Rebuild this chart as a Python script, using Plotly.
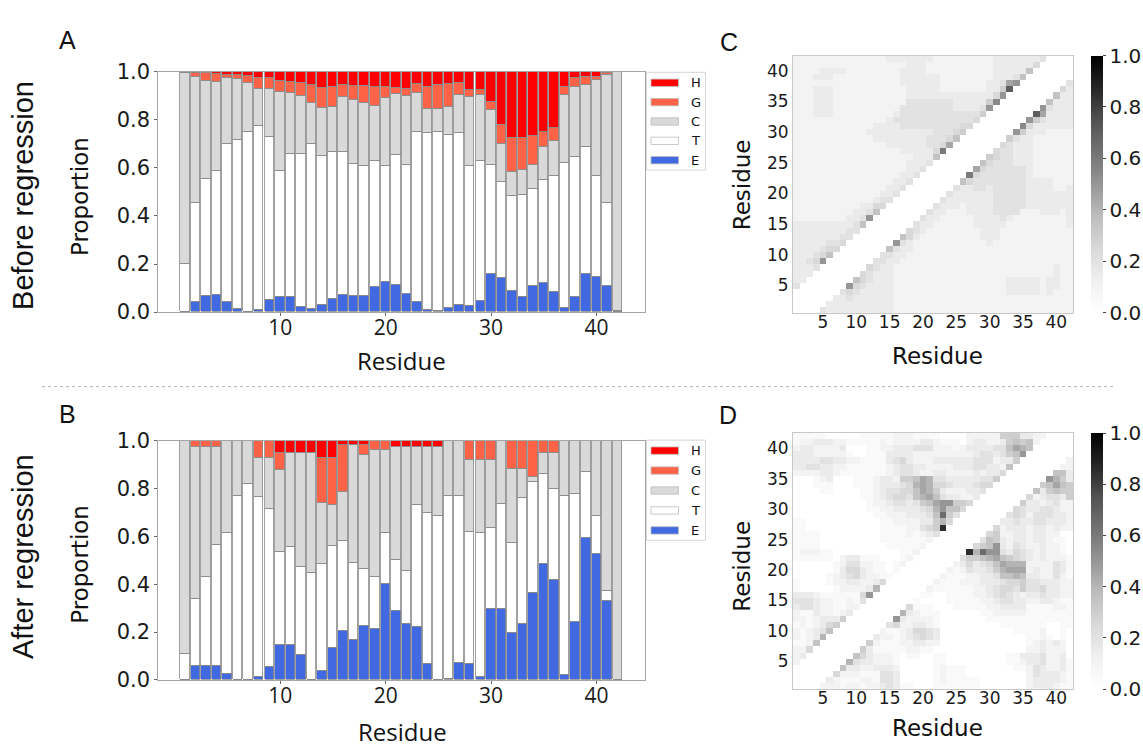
import plotly.graph_objects as go

W, H = 1143, 751

residues = list(range(1, 43))

# Secondary-structure classes, stacked bottom to top: E, T, C, G, H
ss_order = ["E", "T", "C", "G", "H"]
legend_order = ["H", "G", "C", "T", "E"]
ss_colors = {"H": "#ff0000", "G": "#ff6347", "C": "#d9d9d9", "T": "#ffffff", "E": "#4169e1"}

# Per-residue proportions before regression
before_E = [0.000, 0.042, 0.070, 0.074, 0.045, 0.013, 0.000, 0.009, 0.051, 0.065,
            0.062, 0.024, 0.013, 0.031, 0.054, 0.074, 0.067, 0.067, 0.105, 0.128,
            0.113, 0.078, 0.043, 0.008, 0.004, 0.020, 0.031, 0.028, 0.049, 0.159,
            0.143, 0.089, 0.065, 0.108, 0.121, 0.084, 0.018, 0.065, 0.159, 0.146,
            0.109, 0.000]
before_T = [0.200, 0.414, 0.485, 0.513, 0.657, 0.705, 0.749, 0.767, 0.678, 0.522,
            0.597, 0.635, 0.689, 0.621, 0.614, 0.594, 0.551, 0.540, 0.523, 0.483,
            0.542, 0.537, 0.707, 0.738, 0.745, 0.717, 0.715, 0.583, 0.579, 0.456,
            0.401, 0.394, 0.425, 0.405, 0.430, 0.483, 0.603, 0.583, 0.529, 0.422,
            0.347, 0.007]
before_C = [0.795, 0.524, 0.409, 0.371, 0.271, 0.251, 0.204, 0.152, 0.202, 0.328,
            0.252, 0.240, 0.168, 0.198, 0.186, 0.227, 0.267, 0.263, 0.229, 0.280,
            0.255, 0.286, 0.162, 0.099, 0.096, 0.116, 0.158, 0.284, 0.276, 0.226,
            0.158, 0.101, 0.101, 0.101, 0.137, 0.146, 0.283, 0.289, 0.258, 0.398,
            0.533, 0.993]
before_G = [0.000, 0.015, 0.032, 0.035, 0.016, 0.019, 0.032, 0.048, 0.045, 0.047,
            0.047, 0.056, 0.075, 0.082, 0.083, 0.051, 0.057, 0.072, 0.082, 0.046,
            0.022, 0.027, 0.037, 0.093, 0.101, 0.096, 0.051, 0.029, 0.020, 0.036,
            0.078, 0.142, 0.135, 0.121, 0.062, 0.052, 0.033, 0.036, 0.034, 0.014,
            0.007, 0.000]
before_H = [0.005, 0.005, 0.004, 0.007, 0.011, 0.012, 0.015, 0.024, 0.024, 0.038,
            0.042, 0.045, 0.055, 0.068, 0.063, 0.054, 0.058, 0.058, 0.061, 0.063,
            0.068, 0.072, 0.051, 0.062, 0.054, 0.051, 0.045, 0.076, 0.076, 0.123,
            0.220, 0.274, 0.274, 0.265, 0.250, 0.235, 0.063, 0.027, 0.020, 0.020,
            0.004, 0.000]

# Per-residue proportions after regression
after_E = [0.000, 0.062, 0.062, 0.062, 0.027, 0.000, 0.000, 0.014, 0.056, 0.146,
           0.146, 0.108, 0.000, 0.038, 0.137, 0.205, 0.169, 0.228, 0.214, 0.404,
           0.291, 0.237, 0.221, 0.068, 0.000, 0.004, 0.072, 0.068, 0.014, 0.299,
           0.299, 0.198, 0.237, 0.366, 0.485, 0.420, 0.024, 0.244, 0.593, 0.526,
           0.332, 0.000]
after_T = [0.112, 0.278, 0.372, 0.504, 0.587, 0.770, 0.821, 0.753, 0.659, 0.389,
           0.410, 0.366, 0.449, 0.450, 0.425, 0.379, 0.323, 0.239, 0.217, 0.210,
           0.214, 0.221, 0.511, 0.631, 0.686, 0.768, 0.700, 0.553, 0.603, 0.338,
           0.439, 0.375, 0.526, 0.461, 0.379, 0.379, 0.746, 0.535, 0.278, 0.162,
           0.041, 0.000]
after_C = [0.888, 0.633, 0.539, 0.407, 0.386, 0.230, 0.179, 0.161, 0.213, 0.343,
           0.394, 0.476, 0.501, 0.252, 0.171, 0.202, 0.490, 0.476, 0.531, 0.348,
           0.471, 0.518, 0.244, 0.277, 0.290, 0.228, 0.228, 0.298, 0.302, 0.282,
           0.262, 0.308, 0.118, 0.024, 0.086, 0.151, 0.230, 0.221, 0.129, 0.312,
           0.627, 1.000]
after_G = [0.000, 0.027, 0.027, 0.027, 0.000, 0.000, 0.000, 0.072, 0.072, 0.072,
           0.000, 0.000, 0.000, 0.190, 0.197, 0.196, 0.000, 0.039, 0.038, 0.038,
           0.000, 0.000, 0.000, 0.000, 0.000, 0.000, 0.000, 0.081, 0.081, 0.081,
           0.000, 0.119, 0.119, 0.149, 0.050, 0.050, 0.000, 0.000, 0.000, 0.000,
           0.000, 0.000]
after_H = [0.000, 0.000, 0.000, 0.000, 0.000, 0.000, 0.000, 0.000, 0.000, 0.050,
           0.050, 0.050, 0.050, 0.070, 0.070, 0.018, 0.018, 0.018, 0.000, 0.000,
           0.024, 0.024, 0.024, 0.024, 0.024, 0.000, 0.000, 0.000, 0.000, 0.000,
           0.000, 0.000, 0.000, 0.000, 0.000, 0.000, 0.000, 0.000, 0.000, 0.000,
           0.000, 0.000]

before = {"E": before_E, "T": before_T, "C": before_C, "G": before_G, "H": before_H}
after = {"E": after_E, "T": after_T, "C": after_C, "G": after_G, "H": after_H}

# Contact maps: one string per residue i (from 42 down to 5); character k is the
# contact frequency with residue k+1, for k+1 <= i-4. Code: index in LEVELS x 0.05.
LEVELS = "0123456789abcdefghij"
contact_before_rows = [
    "22222222222222333333322222222233333334",
    "2222222222222222233322222222223333335",
    "222233332222222233332222222222333337",
    "22233322222222223333332222222233347",
    "222222222222222233333322222223349a",
    "22233322222222222333332222222336e",
    "2223332222222222233333333333335a",
    "222333222222222224444444333336b",
    "22233322222222224444444433334a",
    "22233322222222234444444444446",
    "2222222222222234444444444445",
    "222222222222333344444444455",
    "22222222222333333333344456",
    "2222222222223333333344457",
    "222222222222223333334459",
    "2222222222222222333335c",
    "2222222222222222223337",
    "222222222222222223334",
    "22222222222222222334",
    "2222222222222222334",
    "222222222222222334",
    "22222222222222334",
    "2222222222222334",
    "222222222222344",
    "22222222223355",
    "2222222223347",
    "22222222334a",
    "33333333347",
    "3333333344",
    "333333344",
    "33333445",
    "3333455",
    "333457",
    "3345a",
    "3334",
    "333",
    "33",
    "4",
]
contact_after_rows = [
    "11111000001111122211110000222226663322",
    "1223332211111212222332111023322367672",
    "233222230001122333444222123333447987",
    "3332222210011133332222222223443467a",
    "3333443322111134532223333334442336",
    "334433221111112344332222333443327",
    "22223321111111234432233222232335",
    "0001230001112332667984433333446",
    "000111000111233345898554333455",
    "00001100001123445579863222334",
    "0000000000112345547897433223",
    "0000000000012234434679aa665",
    "0000000000011223333458a775",
    "0000000000001122233347d64",
    "110000000000011222233685",
    "1100000000000111122456h",
    "1111000000000111121234",
    "111100000000011111112",
    "11110000000000111112",
    "1222110000000000112",
    "111111023311100012",
    "00000012442211012",
    "0000001355321101",
    "000001234532211",
    "10000122332235",
    "1000001222238",
    "33321111115a",
    "44432211214",
    "3443221122",
    "211322123",
    "22123336",
    "1212356",
    "212347",
    "21238",
    "1127",
    "225",
    "23",
    "2",
]


def contact_matrix(rows):
    n = len(residues)
    z = [[None] * n for _ in range(n)]
    for k, s in enumerate(rows):
        i = n - k  # residue number of this row
        if len(s) != i - 4:
            raise ValueError(f"row for residue {i} has {len(s)} entries")
        for j, ch in enumerate(s):
            v = LEVELS.index(ch) * 0.05
            z[i - 1][j] = v
            z[j][i - 1] = v
    return z


def px(x):
    return x / W


def py(y):
    return 1 - y / H


greys = [[0.0, "#ffffff"], [0.125, "#f0f0f0"], [0.25, "#d9d9d9"], [0.375, "#bdbdbd"],
         [0.5, "#969696"], [0.625, "#737373"], [0.75, "#525252"], [0.875, "#252525"],
         [1.0, "#000000"]]

fig = go.Figure()

# Stacked bars
for data, xa, ya in [(before, "x", "y"), (after, "x2", "y2")]:
    for cls in ss_order:
        fig.add_trace(go.Bar(
            x=residues, y=data[cls], name=cls, width=0.9,
            marker=dict(color=ss_colors[cls], line=dict(color="#8a8a8a", width=0.8)),
            xaxis=xa, yaxis=ya, showlegend=False, hoverinfo="x+y+name"))

# Contact maps
for rows, xa, ya, top, bottom in [(contact_before_rows, "x3", "y3", 45, 311),
                                  (contact_after_rows, "x4", "y4", 435, 699)]:
    fig.add_trace(go.Heatmap(
        z=contact_matrix(rows), x=residues, y=residues, colorscale=greys,
        zmin=0, zmax=1, zsmooth=False, xaxis=xa, yaxis=ya, hoverongaps=False,
        colorbar=dict(
            thickness=12, thicknessmode="pixels",
            len=(bottom - top) / H, lenmode="fraction",
            x=px(1091), xanchor="left", xpad=0,
            y=py(top), yanchor="top", ypad=0,
            outlinewidth=0,
            tickvals=[0, 0.2, 0.4, 0.6, 0.8, 1.0],
            ticktext=["0.0", "0.2", "0.4", "0.6", "0.8", "1.0"],
            ticks="outside", ticklen=3, tickcolor="#444",
            tickfont=dict(family="DejaVu Sans", size=20, color="#1a1a1a"))))

bar_x = dict(range=[-1.55, 44.55], tickvals=[10, 20, 30, 40], ticks="outside",
             ticklen=3, tickcolor="#666", showline=True, mirror=True,
             linecolor="#a6a6a6", linewidth=1, showgrid=False, zeroline=False,
             ticklabelstandoff=-6,
             tickfont=dict(family="Open Sans", size=21, color="#1a1a1a"))
bar_y = dict(range=[0, 1], tickvals=[0, 0.2, 0.4, 0.6, 0.8, 1.0],
             ticktext=["0.0", "0.2", "0.4", "0.6", "0.8", "1.0"], ticks="outside",
             ticklen=3, tickcolor="#666", showline=True, mirror=True,
             linecolor="#a6a6a6", linewidth=1, showgrid=False, zeroline=False,
             tickfont=dict(family="DejaVu Sans", size=21, color="#1a1a1a"))
hm_x = dict(range=[0.5, 42.5], tickvals=[5, 10, 15, 20, 25, 30, 35, 40], ticks="",
            showline=True, mirror=True, linecolor="#c8c8c8", linewidth=1,
            showgrid=False, zeroline=False, ticklabelstandoff=-6,
            tickfont=dict(family="DejaVu Sans", size=17, color="#1a1a1a"))
hm_y = dict(range=[0.5, 42.5], tickvals=[5, 10, 15, 20, 25, 30, 35, 40], ticks="",
            showline=True, mirror=True, linecolor="#c8c8c8", linewidth=1,
            showgrid=False, zeroline=False,
            tickfont=dict(family="DejaVu Sans", size=17, color="#1a1a1a"))

fig.update_layout(
    width=W, height=H, margin=dict(l=0, r=0, t=0, b=0),
    paper_bgcolor="white", plot_bgcolor="white", barmode="stack", bargap=0,
    showlegend=False,
    xaxis=dict(bar_x, domain=[px(158.3), px(644.6)], anchor="y"),
    yaxis=dict(bar_y, domain=[py(310), py(61.7)], anchor="x"),
    xaxis2=dict(bar_x, domain=[px(158.3), px(644.6)], anchor="y2"),
    yaxis2=dict(bar_y, domain=[py(690), py(442.7)], anchor="x2"),
    xaxis3=dict(hm_x, domain=[px(793), px(1073)], anchor="y3"),
    yaxis3=dict(hm_y, domain=[py(311), py(45)], anchor="x3"),
    xaxis4=dict(hm_x, domain=[px(793), px(1073)], anchor="y4"),
    yaxis4=dict(hm_y, domain=[py(699), py(435)], anchor="x4"),
)

annotations = []
shapes = []


def text(x, y, s, family, size, angle=0):
    annotations.append(dict(x=px(x), y=py(y), xref="paper", yref="paper", text=s,
                            showarrow=False, textangle=angle, xanchor="center",
                            yanchor="middle",
                            font=dict(family=family, size=size, color="#111")))


# Panel letters and row titles
text(67, 29, "A", "Liberation Sans", 25)
text(67, 415, "B", "Liberation Sans", 25)
text(729, 31, "C", "Liberation Sans", 25)
text(728, 416, "D", "Liberation Sans", 25)
text(23, 190, "Before regression", "Liberation Sans", 29, -90)
text(23, 563, "After regression", "Liberation Sans", 29, -90)

# Axis titles
text(80, 191, "Proportion", "DejaVu Sans", 23, -90)
text(80, 571, "Proportion", "DejaVu Sans", 23, -90)
text(401, 360, "Residue", "Open Sans", 24)
text(402, 743, "Residue", "Open Sans", 24)
text(937, 355, "Residue", "DejaVu Sans", 23)
text(937, 740, "Residue", "DejaVu Sans", 23)
text(742, 178, "Residue", "DejaVu Sans", 23, -90)
text(742, 572, "Residue", "DejaVu Sans", 23, -90)

# Divider between the two rows
shapes.append(dict(type="line", xref="paper", yref="paper", x0=px(42), x1=px(1113),
                   y0=py(387), y1=py(387), line=dict(color="#b4b4b4", width=1, dash="dot")))

# Legend boxes for the stacked bars
for top, bottom in [(62.3, 163.3), (442.3, 545.7)]:
    shapes.append(dict(type="rect", xref="paper", yref="paper", x0=px(646.5), x1=px(705.5),
                       y0=py(bottom), y1=py(top), line=dict(color="#d6d6d6", width=1),
                       fillcolor="white"))
    step = (bottom - top - 21) / 4
    for k, cls in enumerate(legend_order):
        yc = top + 10.8 + k * step
        shapes.append(dict(type="rect", xref="paper", yref="paper", x0=px(651), x1=px(678.5),
                           y0=py(yc + 3.8), y1=py(yc - 3.8),
                           line=dict(color="#bdbdbd", width=0.8), fillcolor=ss_colors[cls]))
        annotations.append(dict(x=px(688.5), y=py(yc), xref="paper", yref="paper", text=cls,
                                showarrow=False, xanchor="left", yanchor="middle",
                                font=dict(family="DejaVu Sans", size=13, color="#111")))

fig.update_layout(annotations=annotations, shapes=shapes)
fig.write_html("out.html")
